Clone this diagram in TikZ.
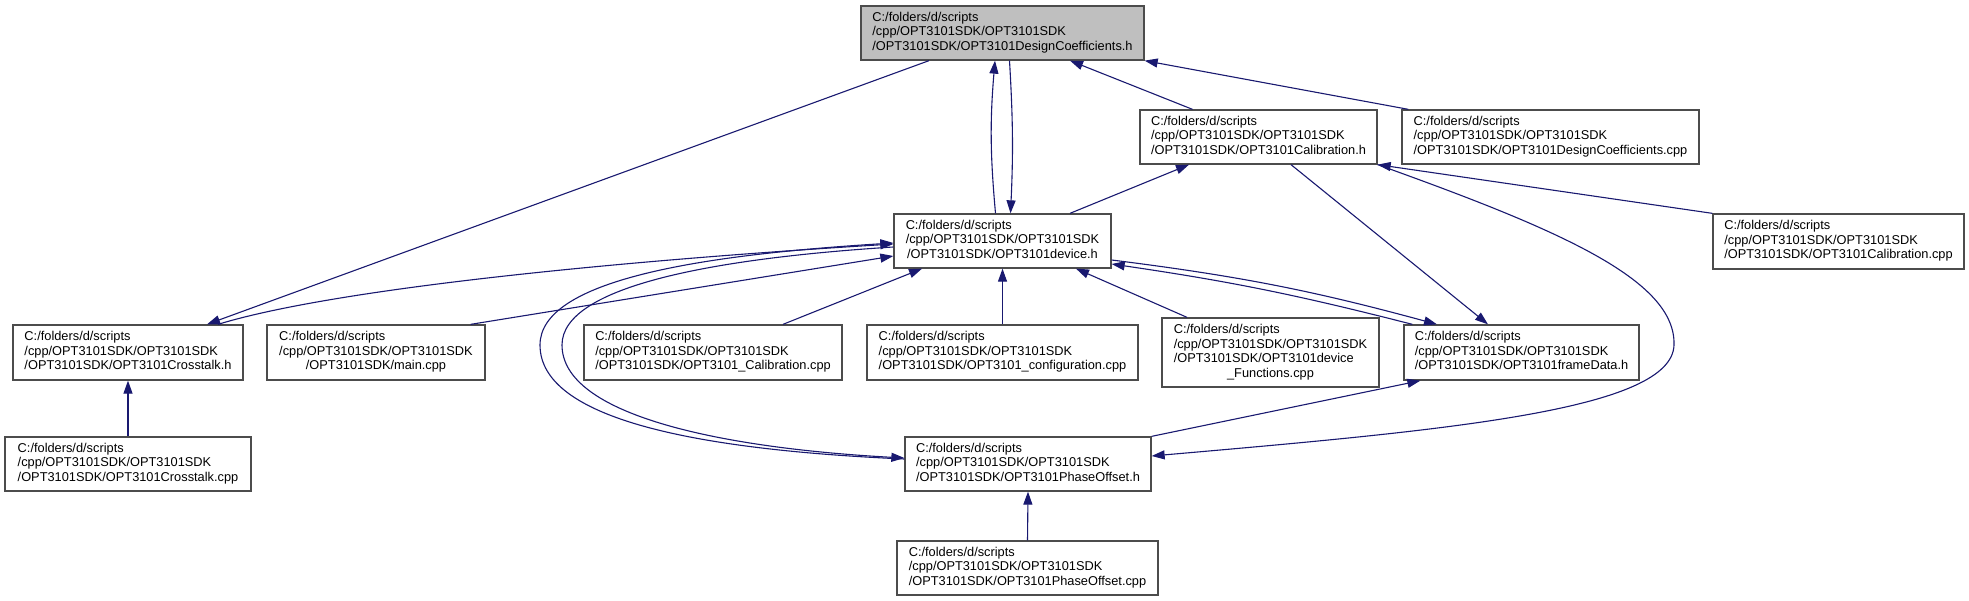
\documentclass[tikz,border=0pt]{standalone}
\usepackage{fontspec}
\setmainfont{Liberation Sans}
\usetikzlibrary{arrows.meta}
\definecolor{edgeblue}{RGB}{25,25,112}
\definecolor{boxgray}{RGB}{191,191,191}
\newcommand{\fpath}[2]{\begin{tabular}{@{}l@{}}C:/folders/d/scripts\\#1\\\multicolumn{1}{@{}c@{}}{#2}\end{tabular}}
\tikzset{
  filebox/.style={draw=black!70, line width=1.3pt, fill=white, inner sep=0pt,
    font=\fontsize{12.8pt}{14.5pt}\selectfont},
  incl/.style={edgeblue, line width=1.1pt, -{Triangle[length=13pt,width=9pt]}},
}
\begin{document}
\begin{tikzpicture}[x=1pt,y=-1pt]
\path[use as bounding box, fill=white] (0,0) rectangle (1969,601);
\node[filebox, fill=boxgray, minimum width=283pt, minimum height=54pt] (dch) at (1002.5,33)
  {\fpath{/cpp/OPT3101SDK/OPT3101SDK}{/OPT3101SDK/OPT3101DesignCoefficients.h}};
\node[filebox, minimum width=237pt, minimum height=54pt] (calh) at (1258.5,137)
  {\fpath{/cpp/OPT3101SDK/OPT3101SDK}{/OPT3101SDK/OPT3101Calibration.h}};
\node[filebox, minimum width=297pt, minimum height=54pt] (dccpp) at (1550.5,137)
  {\fpath{/cpp/OPT3101SDK/OPT3101SDK}{/OPT3101SDK/OPT3101DesignCoefficients.cpp}};
\node[filebox, minimum width=217pt, minimum height=54pt] (devh) at (1002.5,241)
  {\fpath{/cpp/OPT3101SDK/OPT3101SDK}{/OPT3101SDK/OPT3101device.h}};
\node[filebox, minimum width=251pt, minimum height=55pt] (calcpp) at (1838.5,241.5)
  {\fpath{/cpp/OPT3101SDK/OPT3101SDK}{/OPT3101SDK/OPT3101Calibration.cpp}};
\node[filebox, minimum width=230pt, minimum height=55pt] (xth) at (128,352.5)
  {\fpath{/cpp/OPT3101SDK/OPT3101SDK}{/OPT3101SDK/OPT3101Crosstalk.h}};
\node[filebox, minimum width=218pt, minimum height=55pt] (maincpp) at (376,352.5)
  {\fpath{/cpp/OPT3101SDK/OPT3101SDK}{/OPT3101SDK/main.cpp}};
\node[filebox, minimum width=258pt, minimum height=55pt] (ucalcpp) at (713,352.5)
  {\fpath{/cpp/OPT3101SDK/OPT3101SDK}{/OPT3101SDK/OPT3101\_Calibration.cpp}};
\node[filebox, minimum width=271pt, minimum height=55pt] (confcpp) at (1002.5,352.5)
  {\fpath{/cpp/OPT3101SDK/OPT3101SDK}{/OPT3101SDK/OPT3101\_configuration.cpp}};
\node[filebox, minimum width=217pt, minimum height=69pt] (devfun) at (1270.5,352.5)
  {\begin{tabular}{@{}l@{}}C:/folders/d/scripts\\/cpp/OPT3101SDK/OPT3101SDK\\/OPT3101SDK/OPT3101device\\\multicolumn{1}{@{}c@{}}{\_Functions.cpp}\end{tabular}};
\node[filebox, minimum width=235pt, minimum height=55pt] (framed) at (1521.5,352.5)
  {\fpath{/cpp/OPT3101SDK/OPT3101SDK}{/OPT3101SDK/OPT3101frameData.h}};
\node[filebox, minimum width=246pt, minimum height=54pt] (xtcpp) at (128,464)
  {\fpath{/cpp/OPT3101SDK/OPT3101SDK}{/OPT3101SDK/OPT3101Crosstalk.cpp}};
\node[filebox, minimum width=246pt, minimum height=54pt] (phh) at (1028,464)
  {\fpath{/cpp/OPT3101SDK/OPT3101SDK}{/OPT3101SDK/OPT3101PhaseOffset.h}};
\node[filebox, minimum width=261pt, minimum height=54pt] (phcpp) at (1027.5,568)
  {\fpath{/cpp/OPT3101SDK/OPT3101SDK}{/OPT3101SDK/OPT3101PhaseOffset.cpp}};
\draw[incl] ([xshift=-73.5pt]dch.south) -- ([xshift=79pt]xth.north);
\draw[incl] ([xshift=-7pt]devh.north) to[bend left=5] ([xshift=-7.5pt]dch.south);
\draw[incl] ([xshift=7pt]dch.south) to[bend left=3] ([xshift=8pt]devh.north);
\draw[incl] ([xshift=-66pt]calh.north) -- ([xshift=67.5pt]dch.south);
\draw[incl] ([xshift=7pt]dccpp.north west) -- (dch.south east);
\draw[incl] ([xshift=67.5pt]devh.north) -- ([xshift=-69.5pt]calh.south);
\draw[incl] (calcpp.north west) -- (calh.south east);
\draw[incl] ([xshift=32.5pt]calh.south) -- ([xshift=-33.5pt]framed.north);
\draw[incl] (calh.south east) .. controls (1560,230) and (1676,280) .. (1674,345)
  .. controls (1672,410) and (1450,430) .. ([yshift=8pt]phh.east);
\draw[incl] ([yshift=-19pt]devh.east) to[bend left=4] ([xshift=-84.5pt]framed.north);
\draw[incl] ([xshift=9pt]framed.north west) to[bend right=3] ([yshift=-23pt]devh.east);
\draw[incl] ([xshift=90pt]xth.north) .. controls (330,290) and (600,262) .. ([yshift=-3pt]devh.west);
\draw[incl] ([xshift=-15pt]maincpp.north east) -- ([yshift=-15pt]devh.west);
\draw[incl] ([yshift=5pt]phh.west) .. controls (700,450) and (540,420) .. (540,345)
  .. controls (540,280) and (700,255) .. ([yshift=-2pt]devh.west);
\draw[incl] ([yshift=-6pt]devh.west) .. controls (720,258) and (562,285) .. (562,345)
  .. controls (562,415) and (720,448) .. ([yshift=6pt]phh.west);
\draw[incl] ([xshift=70pt]ucalcpp.north) -- ([xshift=-80.5pt]devh.south);
\draw[incl] (confcpp.north) -- (devh.south);
\draw[incl] ([xshift=-83.5pt]devfun.north) -- ([xshift=73.5pt]devh.south);
\draw[incl] (phh.north east) -- ([xshift=17pt]framed.south west);
\draw[incl] (phcpp.north) -- (phh.south);
\draw[incl] (xtcpp.north) -- (xth.south);
\end{tikzpicture}
\end{document}
